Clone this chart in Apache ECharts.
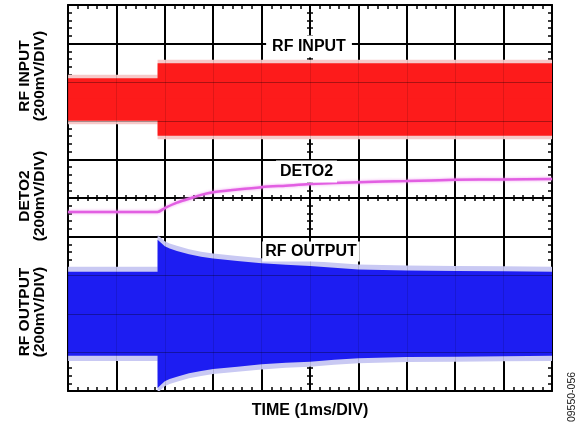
<!DOCTYPE html>
<html>
<head>
<meta charset="utf-8">
<script src="https://cdn.jsdelivr.net/npm/echarts@6/dist/echarts.min.js"></script>
<style>
html,body{margin:0;padding:0;background:#fff;}
#chart{width:586px;height:423px;}
</style>
</head>
<body>
<div id="chart"></div>
<script>
// ---- data (time in ms = divisions, levels in divisions of 200 mV) ----
const rfInputTime = [0, 1.85, 1.851, 10];
const rfInputHalfSpan = [0.55, 0.55, 0.94, 0.94];
const rfInputCenter = 7.55;

const deto2Time = [0, 1.85, 2.0, 2.25, 2.5, 2.75, 3.0, 3.5, 4.0, 4.5, 5.0, 6.0, 7.0, 8.0, 9.0, 10.0];
const deto2Level = [4.64, 4.64, 4.74, 4.88, 4.98, 5.08, 5.15, 5.22, 5.28, 5.32, 5.36, 5.41, 5.44, 5.47, 5.48, 5.49];

const rfOutputTime = [0, 1.85, 1.851, 1.92, 2.0, 2.1, 2.25, 2.5, 2.75, 3.0, 3.5, 4.0, 4.5, 5.0, 5.5, 6.0, 7.0, 8.0, 9.0, 10.0];
const rfOutputHalfSpan = [1.09, 1.09, 1.92, 1.84, 1.75, 1.69, 1.63, 1.54, 1.48, 1.43, 1.37, 1.31, 1.27, 1.24, 1.19, 1.15, 1.12, 1.11, 1.10, 1.09];
const rfOutputCenter = 2.0;

const channelLabels = ['RF INPUT\n(200mV/DIV)', 'DETO2\n(200mV/DIV)', 'RF OUTPUT\n(200mV/DIV)'];
const traceLabels = ['RF INPUT', 'DETO2', 'RF OUTPUT'];
const timeAxisTitle = 'TIME (1ms/DIV)';
const figureId = '09550-056';

// ---- chart ----
const chart = echarts.init(document.getElementById('chart'), null, {renderer: 'canvas'});
const FONT = '"Liberation Sans", Arial, sans-serif';

function axisBase(extra) {
  return Object.assign({
    type: 'value', min: 0, max: 10, interval: 1,
    axisLabel: {show: false},
    axisLine: {show: true, onZero: false, lineStyle: {color: '#000', width: 2}},
    axisTick: {show: true, inside: true, length: 4, lineStyle: {color: '#000', width: 1.5}},
    minorTick: {show: true, splitNumber: 5, length: 4, lineStyle: {color: '#000', width: 1.5}},
    splitLine: {show: false}
  }, extra);
}

const xAxes = [
  axisBase({position: 'bottom', splitLine: {show: true, lineStyle: {color: '#000', width: 2}}}),
  axisBase({position: 'top'}),
  axisBase({position: 'bottom', offset: -193, axisLine: {show: true, onZero: false, lineStyle: {color: '#000', width: 1.5}},
            axisTick: {show: true, inside: true, length: 3, lineStyle: {color: '#000', width: 1.5}},
            minorTick: {show: true, splitNumber: 5, length: 3, lineStyle: {color: '#000', width: 1.5}}}),
  axisBase({position: 'bottom', offset: -193, axisLine: {show: false, onZero: false},
            axisTick: {show: true, inside: false, length: 3, lineStyle: {color: '#000', width: 1.5}},
            minorTick: {show: true, splitNumber: 5, length: 3, lineStyle: {color: '#000', width: 1.5}}}),
  axisBase({position: 'bottom', z: 3, axisLine: {show: false, onZero: false}, axisTick: {show: false}, minorTick: {show: false},
            splitLine: {show: true, lineStyle: {color: 'rgba(0,0,0,0.12)', width: 1}}})
];
const yAxes = [
  axisBase({position: 'left', splitLine: {show: true, lineStyle: {color: '#000', width: 2}}}),
  axisBase({position: 'right'}),
  axisBase({position: 'left', offset: -242, axisLine: {show: true, onZero: false, lineStyle: {color: '#000', width: 2}},
            axisTick: {show: true, inside: true, length: 3, lineStyle: {color: '#000', width: 1.5}},
            minorTick: {show: true, splitNumber: 5, length: 3, lineStyle: {color: '#000', width: 1.5}}}),
  axisBase({position: 'left', offset: -242, axisLine: {show: false, onZero: false},
            axisTick: {show: true, inside: false, length: 3, lineStyle: {color: '#000', width: 1.5}},
            minorTick: {show: true, splitNumber: 5, length: 3, lineStyle: {color: '#000', width: 1.5}}}),
  axisBase({position: 'left', z: 3, axisLine: {show: false, onZero: false}, axisTick: {show: false}, minorTick: {show: false},
            splitLine: {show: true, lineStyle: {color: 'rgba(0,0,0,0.32)', width: 1}}})
];

function bandHalf(times, center, half, extra, sign, color, z) {
  return {
    type: 'line', xAxisIndex: 0, yAxisIndex: 0, z: z,
    symbol: 'none', silent: true,
    data: times.map((t, i) => [t, center + sign * (half[i] + extra)]),
    lineStyle: {width: 0, opacity: 0},
    areaStyle: {color: color, opacity: 1, origin: center - sign * 0.03}
  };
}

const series = [];
// RF input
series.push(bandHalf(rfInputTime, rfInputCenter, rfInputHalfSpan, 0.09, 1, '#f6c9c9', 1));
series.push(bandHalf(rfInputTime, rfInputCenter, rfInputHalfSpan, 0.09, -1, '#f6c9c9', 1));
series.push(bandHalf(rfInputTime, rfInputCenter, rfInputHalfSpan, 0, 1, '#fd1b1b', 2));
series.push(bandHalf(rfInputTime, rfInputCenter, rfInputHalfSpan, 0, -1, '#fd1b1b', 2));
// RF output
series.push(bandHalf(rfOutputTime, rfOutputCenter, rfOutputHalfSpan, 0.13, 1, '#c9c9f3', 1));
series.push(bandHalf(rfOutputTime, rfOutputCenter, rfOutputHalfSpan, 0.13, -1, '#c9c9f3', 1));
series.push(bandHalf(rfOutputTime, rfOutputCenter, rfOutputHalfSpan, 0, 1, '#1d1df2', 2));
series.push(bandHalf(rfOutputTime, rfOutputCenter, rfOutputHalfSpan, 0, -1, '#1d1df2', 2));
// DETO2
series.push({
  type: 'line', xAxisIndex: 0, yAxisIndex: 0, z: 5, symbol: 'none', silent: true, smooth: 0.3,
  data: deto2Time.map((t, i) => [t, deto2Level[i]]),
  lineStyle: {color: '#e25fe2', width: 2.5, shadowColor: 'rgba(240,150,240,0.9)', shadowBlur: 3}
});

const boldText = {font: 'bold 16px ' + FONT, fill: '#000'};
const graphic = [
  {type: 'text', z: 100, x: 309, y: 46.5, style: Object.assign({text: traceLabels[0], align: 'center', verticalAlign: 'middle', backgroundColor: '#fff', padding: [3, 6]}, boldText)},
  {type: 'text', z: 100, x: 306.5, y: 171.5, style: Object.assign({text: traceLabels[1], align: 'center', verticalAlign: 'middle', backgroundColor: '#fff', padding: [3, 4]}, boldText)},
  {type: 'text', z: 100, x: 311, y: 251.5, style: Object.assign({text: traceLabels[2], align: 'center', verticalAlign: 'middle', backgroundColor: '#fff', padding: [2, 3]}, boldText)},
  {type: 'text', z: 100, x: 310, y: 411, style: Object.assign({text: timeAxisTitle, align: 'center', verticalAlign: 'middle'}, boldText)},
  {type: 'text', z: 100, x: 32.5, y: 76, rotation: Math.PI / 2, style: {text: channelLabels[0], align: 'center', verticalAlign: 'middle', font: 'bold 15.5px ' + FONT, lineHeight: 15, fill: '#000'}},
  {type: 'text', z: 100, x: 32.5, y: 196, rotation: Math.PI / 2, style: {text: channelLabels[1], align: 'center', verticalAlign: 'middle', font: 'bold 15.5px ' + FONT, lineHeight: 15, fill: '#000'}},
  {type: 'text', z: 100, x: 32.5, y: 312, rotation: Math.PI / 2, style: {text: channelLabels[2], align: 'center', verticalAlign: 'middle', font: 'bold 15.5px ' + FONT, lineHeight: 15, fill: '#000'}},
  {type: 'text', z: 100, x: 572, y: 397, rotation: Math.PI / 2, style: {text: figureId, align: 'center', verticalAlign: 'middle', font: '10.5px ' + FONT, fill: '#222'}}
];

chart.setOption({
  animation: false,
  backgroundColor: '#fff',
  grid: {left: 68, top: 5, width: 484, height: 386, show: false},
  xAxis: xAxes,
  yAxis: yAxes,
  series: series,
  graphic: graphic
});
</script>
</body>
</html>
